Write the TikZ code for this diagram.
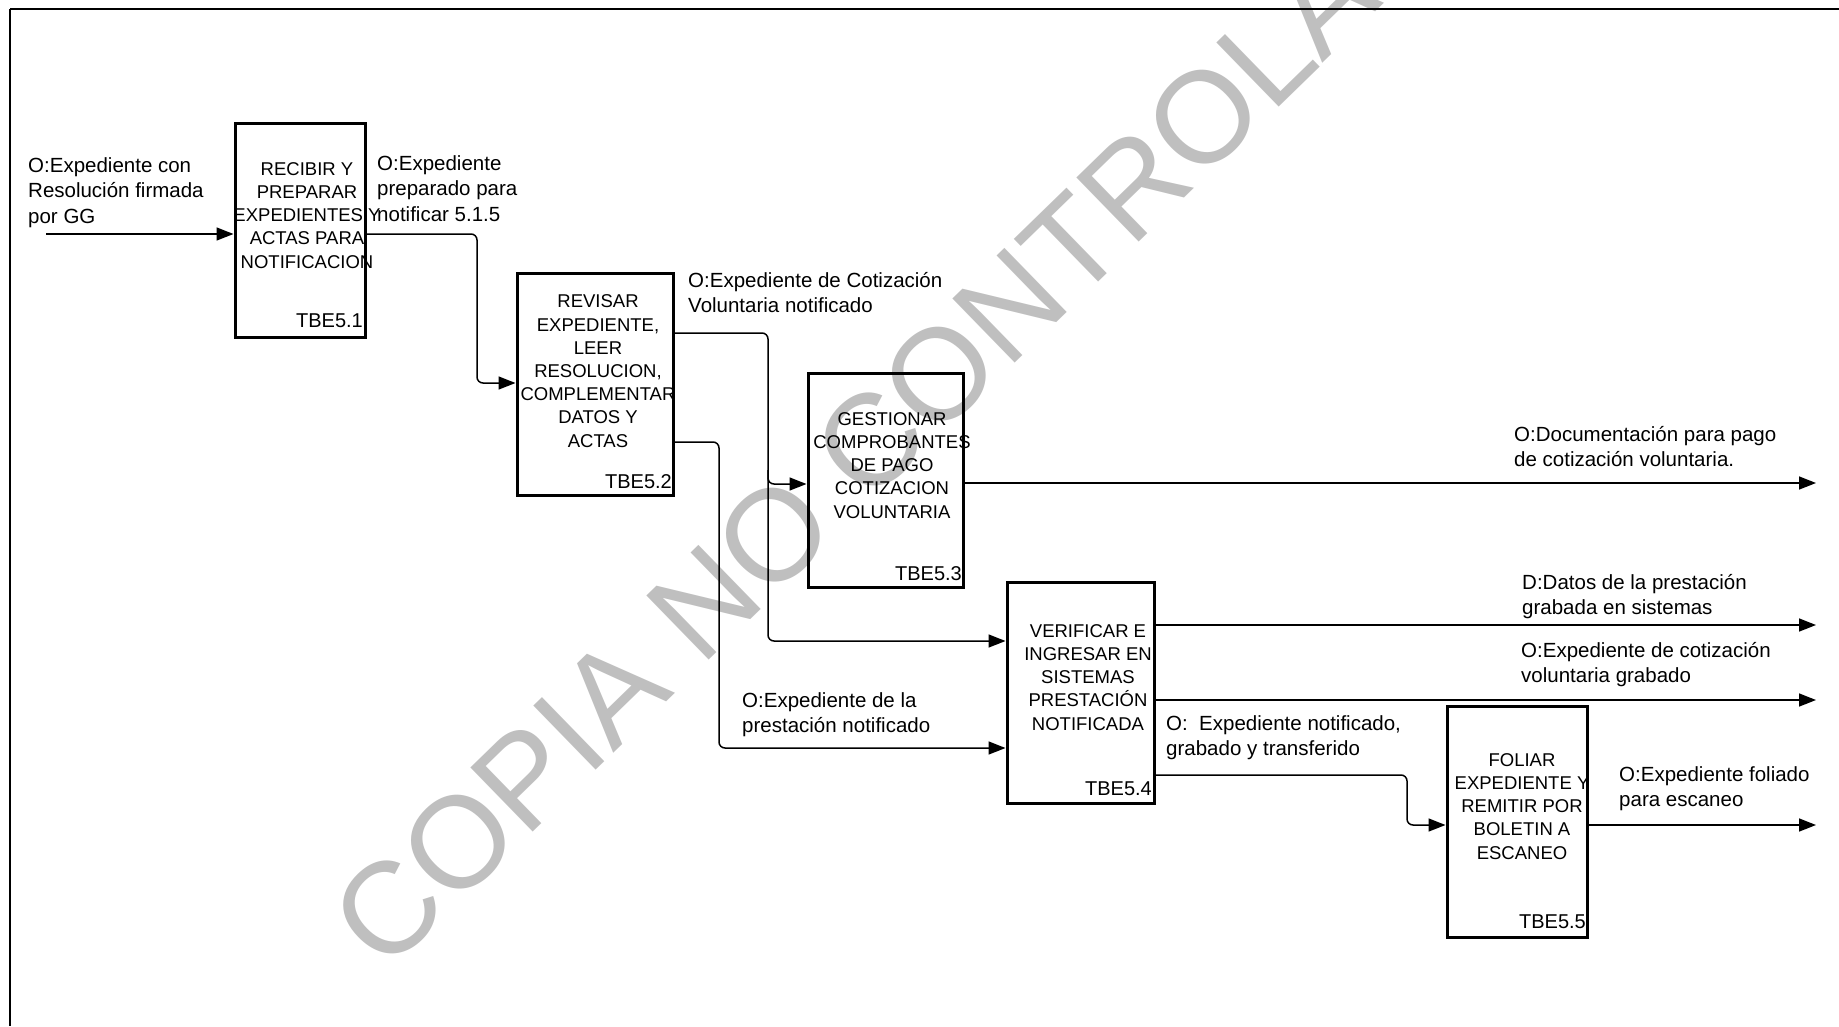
\documentclass[tikz,border=0pt]{standalone}
\usepackage{fontspec}
\setmainfont{Liberation Sans}
\usetikzlibrary{arrows.meta}
\begin{document}
\begin{tikzpicture}[x=1pt,y=-1pt,
  conn/.style={line width=1.5pt},
  arr/.style={conn,-{Triangle[length=17pt,width=13pt]}},
  hop/.style={rounded corners=6pt},
  box/.style={draw, line width=3pt, inner sep=0pt},
  btext/.style={font=\fontsize{18.5}{23.2}\selectfont, align=center, anchor=base, inner sep=0pt},
  lbl/.style={font=\fontsize{20.5}{25.5}\selectfont, align=left, anchor=base west, inner sep=0pt},
  tbe/.style={font=\fontsize{20}{24}\selectfont, anchor=base east, inner sep=0pt},
  wm/.style={text=black!25, font=\fontsize{130}{130}\selectfont, inner sep=0pt}]
\useasboundingbox (0,0) rectangle (1839,1026);
% watermark
\node[wm, rotate=44.2] (wm) at (919,394) {COPIA NO CONTROLADA};
% frame
\coordinate (tl) at (10,9);
\coordinate (tr) at (1839,9);
\coordinate (bl) at (10,1026);
\draw[line width=2.8pt] (tl) -- (tr);
\draw[line width=1.2pt] (tl) -- (bl);
% boxes
\node[box, minimum width=130pt, minimum height=214pt] (b1) at (300,230) {};
\node[box, minimum width=156pt, minimum height=222pt] (b2) at (595,384) {};
\node[box, minimum width=155pt, minimum height=214pt] (b3) at (885.5,480) {};
\node[box, minimum width=147pt, minimum height=221pt] (b4) at (1080.5,692.5) {};
\node[box, minimum width=140pt, minimum height=231pt] (b5) at (1517,821.5) {};
% box texts (anchor = baseline of last line)
\node[btext] (t1) at (307,268) {RECIBIR Y\\PREPARAR\\EXPEDIENTES Y\\ACTAS PARA\\NOTIFICACION};
\node[btext] (t2) at (598,447) {REVISAR\\EXPEDIENTE,\\LEER\\RESOLUCION,\\COMPLEMENTAR\\DATOS Y\\ACTAS};
\node[btext] (t3) at (892,518) {GESTIONAR\\COMPROBANTES\\DE PAGO\\COTIZACION\\VOLUNTARIA};
\node[btext] (t4) at (1088,730) {VERIFICAR E\\INGRESAR EN\\SISTEMAS\\PRESTACIÓN\\NOTIFICADA};
\node[btext] (t5) at (1522,859) {FOLIAR\\EXPEDIENTE Y\\REMITIR POR\\BOLETIN A\\ESCANEO};
% ids
\node[tbe] (n1) at (363,327) {TBE5.1};
\node[tbe] (n2) at (672,488) {TBE5.2};
\node[tbe] (n3) at (962,580) {TBE5.3};
\node[tbe] (n4) at (1152,795) {TBE5.4};
\node[tbe] (n5) at (1586,928) {TBE5.5};
% labels (anchor = baseline of last line)
\node[lbl] (l1) at (28,223) {O:Expediente con\\Resolución firmada\\por GG};
\node[lbl] (l2) at (377,221) {O:Expediente\\preparado para\\notificar 5.1.5};
\node[lbl] (l3) at (688,312.5) {O:Expediente de Cotización\\Voluntaria notificado};
\node[lbl] (l4) at (1514,466.5) {O:Documentación para pago\\de cotización voluntaria.};
\node[lbl] (l5) at (1522,614.5) {D:Datos de la prestación\\grabada en sistemas};
\node[lbl] (l6) at (1521,682.5) {O:Expediente de cotización\\voluntaria grabado};
\node[lbl] (l7) at (1166,755.5) {O:\ \ Expediente notificado,\\grabado y transferido};
\node[lbl] (l8) at (1619,806.5) {O:Expediente foliado\\para escaneo};
\node[lbl] (l9) at (742,732.5) {O:Expediente de la\\prestación notificado};
% connectors
\coordinate (in1) at (46,234);
\draw[arr] (in1) -- (b1.west |- in1);
\draw[arr, hop] (b1.east |- in1) -- (477,234) -- (477,383) -- (b2.west |- 0,383);
\draw[arr, hop] (b2.east |- 0,333) -- (768,333) -- (768,641) -- (b4.west |- 0,641);
\draw[arr, hop] (768,470) -- (768,484) -- (b3.west |- 0,484);
\draw[arr, hop] (b2.east |- 0,442) -- (719,442) -- (719,748) -- (b4.west |- 0,748);
\coordinate (o3) at (1816,483);
\draw[arr] (b3.east |- o3) -- (o3);
\coordinate (o4a) at (1816,625);
\draw[arr] (b4.east |- o4a) -- (o4a);
\coordinate (o4b) at (1816,700);
\draw[arr] (b4.east |- o4b) -- (o4b);
\draw[arr, hop] (b4.east |- 0,775) -- (1407,775) -- (1407,825) -- (b5.west |- 0,825);
\coordinate (o5) at (1816,825);
\draw[arr] (b5.east |- o5) -- (o5);
\end{tikzpicture}
\end{document}
